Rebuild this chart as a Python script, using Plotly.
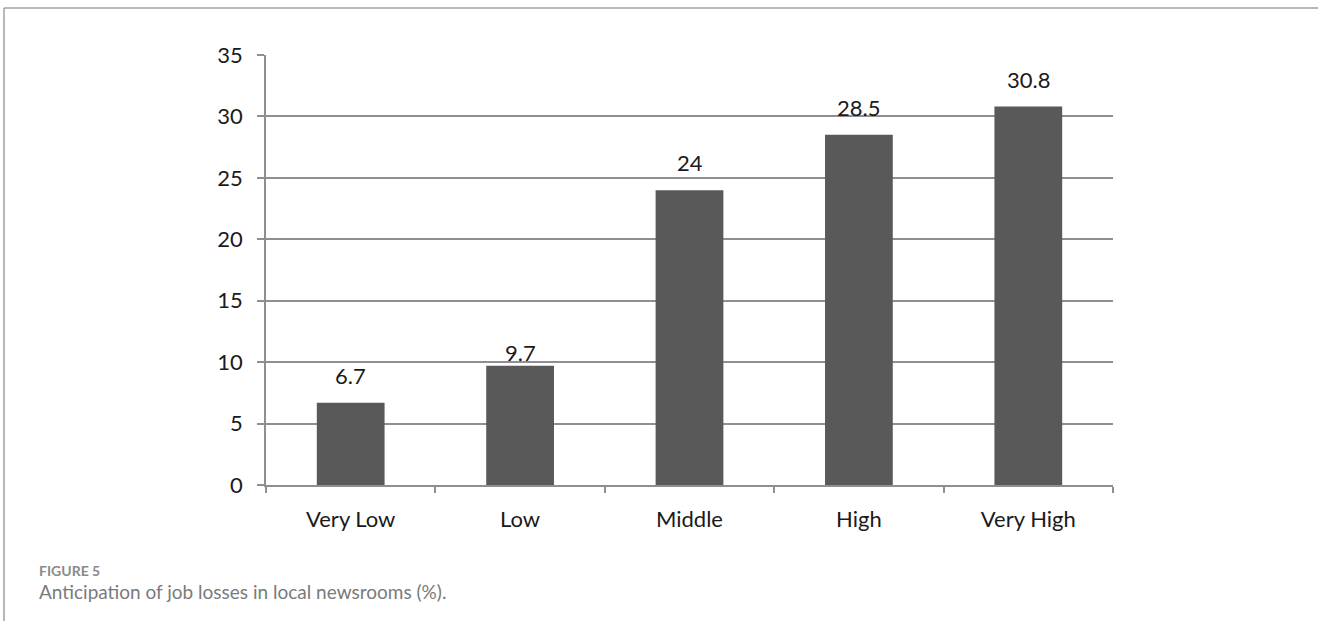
import plotly.graph_objects as go

# Share of respondents by anticipated level of job losses
categories = ["Very Low", "Low", "Middle", "High", "Very High"]
values = [6.7, 9.7, 24, 28.5, 30.8]
y_ticks = [0, 5, 10, 15, 20, 25, 30, 35]

# vertical offset (px) of each value label above its bar
label_lift = [12, -2, 12, 12, 12]

W, H = 1318, 621
L, R, T, B = 266, 205, 55, 136
pw, ph = W - L - R, H - T - B


def px_x(px):
    return (px - L) / pw


def px_y(py):
    return (H - B - py) / ph


font = "Lato, 'Open Sans', sans-serif"
grid = "#8f8f8f"

fig = go.Figure(
    go.Bar(
        x=categories,
        y=values,
        marker=dict(color="#595959", line=dict(color="#595959", width=0)),
        width=0.4,
        hoverinfo="x+y",
    )
)

# value labels above bars
for c, v, lift in zip(categories, values, label_lift):
    fig.add_annotation(
        x=c, y=v, text=f"{v:g}", showarrow=False, yanchor="bottom", yshift=lift,
        font=dict(family=font, size=22, color="#1a1a1a"),
    )

# caption
fig.add_annotation(
    xref="paper", yref="paper", x=px_x(37), y=px_y(570), xanchor="left", yanchor="middle",
    text="<b>FIGURE 5</b>", showarrow=False,
    font=dict(family=font, size=14, color="#8a8a8a"),
)
fig.add_annotation(
    xref="paper", yref="paper", x=px_x(37), y=px_y(591), xanchor="left", yanchor="middle",
    text="Anticipation of job losses in local newsrooms (%).", showarrow=False,
    font=dict(family=font, size=19, color="#7a7a7a"),
)

# frame lines
fig.add_shape(type="line", xref="paper", yref="paper",
              x0=px_x(4), x1=px_x(1320), y0=px_y(8), y1=px_y(8),
              line=dict(color="#a0a0a0", width=1.5))
fig.add_shape(type="line", xref="paper", yref="paper",
              x0=px_x(4), x1=px_x(4), y0=px_y(8), y1=px_y(623),
              line=dict(color="#a0a0a0", width=1.5))

fig.update_layout(
    width=W, height=H,
    margin=dict(l=L, r=R, t=T, b=B, autoexpand=False),
    paper_bgcolor="white", plot_bgcolor="white",
    showlegend=False,
    bargap=0.6,
    xaxis=dict(
        showline=True, linecolor=grid, linewidth=1.5,
        ticks="outside", tickson="boundaries", ticklen=6, tickcolor=grid, tickwidth=1.5,
        tickfont=dict(family=font, size=22, color="#1a1a1a"),
        ticklabelstandoff=14,
        showgrid=False, zeroline=False,
    ),
    yaxis=dict(
        range=[0, 35], tickvals=y_ticks,
        showline=True, linecolor=grid, linewidth=1.5,
        ticks="outside", ticklen=7, tickcolor=grid, tickwidth=1.5,
        showgrid=True, gridcolor=grid, gridwidth=1.5,
        zeroline=False,
        tickfont=dict(family=font, size=22, color="#1a1a1a"),
        ticklabelstandoff=10,
    ),
)

fig.write_html("out.html")
